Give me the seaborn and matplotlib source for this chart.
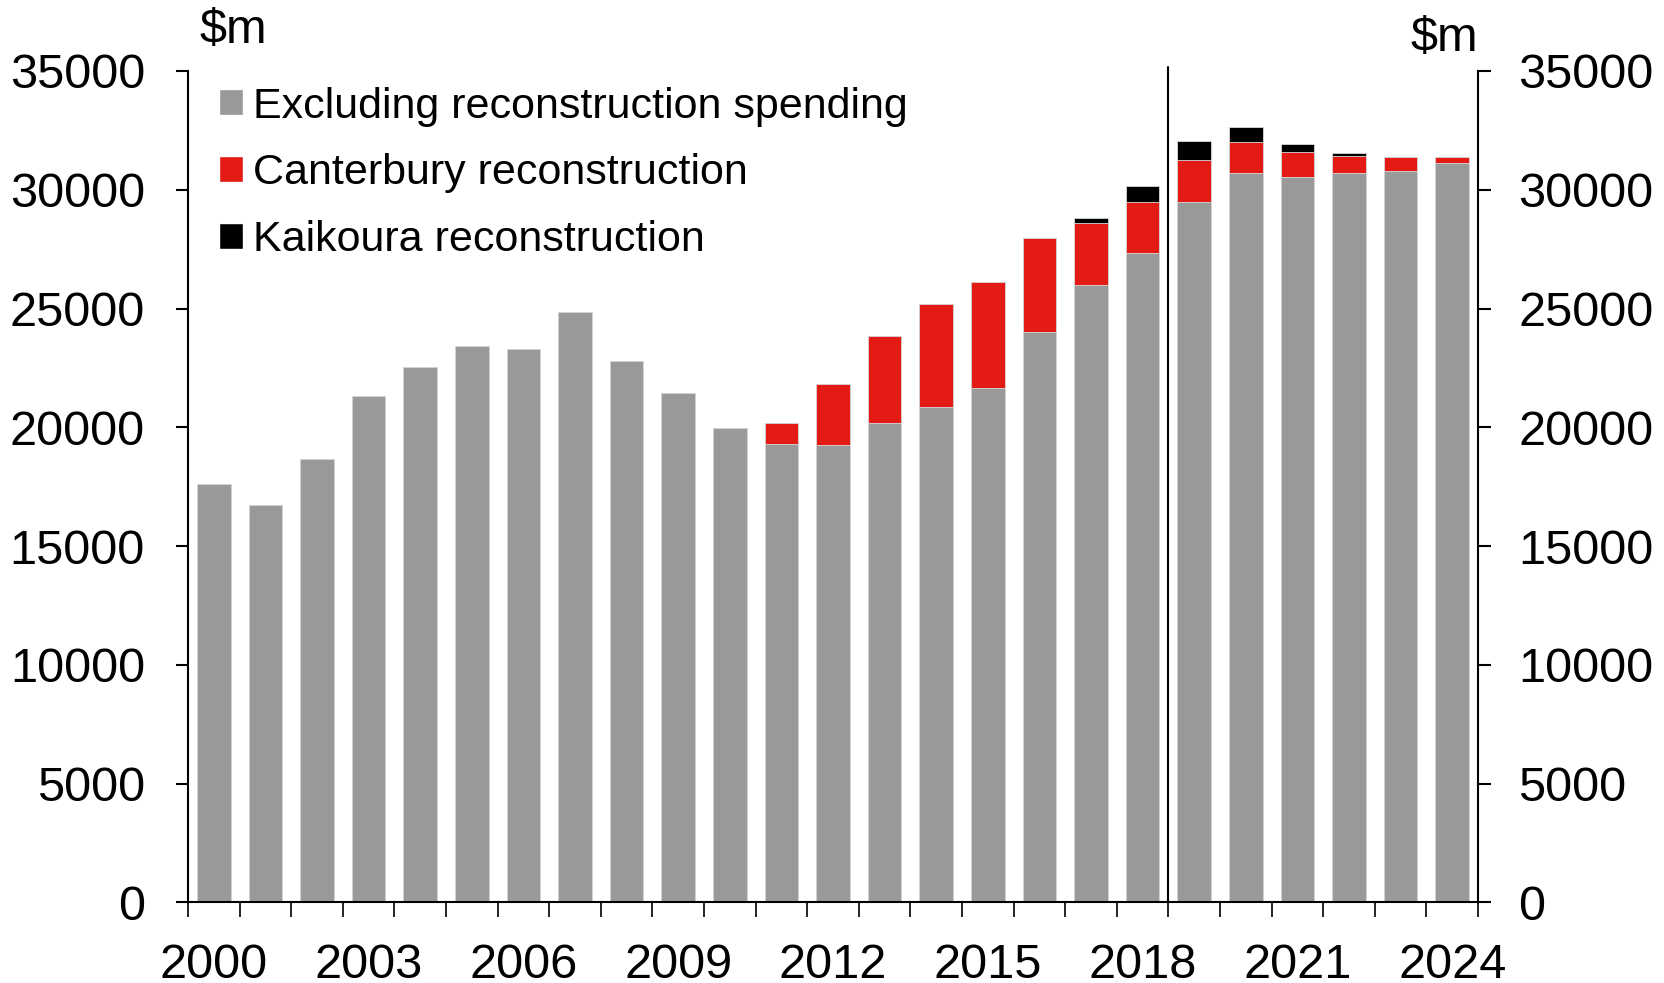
import matplotlib
matplotlib.use("Agg")
import matplotlib.pyplot as plt
import seaborn as sns
import numpy as np
import pandas as pd
from matplotlib.patches import Patch
from matplotlib.ticker import FixedLocator

years = [str(y) for y in range(2000, 2025)]
excluding = [17610, 16730, 18660, 21320, 22550, 23430, 23280, 24850, 22780, 21430,
             19980, 19310, 19250, 20190, 20840, 21670, 24010, 25990, 27340, 29480,
             30720, 30550, 30720, 30790, 31140]
canterbury = [0, 0, 0, 0, 0, 0, 0, 0, 0, 0,
              0, 880, 2570, 3660, 4360, 4460, 3940, 2610, 2130, 1780,
              1300, 1040, 700, 590, 230]
kaikoura = [0, 0, 0, 0, 0, 0, 0, 0, 0, 0,
            0, 0, 0, 0, 0, 0, 0, 220, 700, 790,
            630, 350, 110, 0, 0]
series_labels = ["Excluding reconstruction spending", "Canterbury reconstruction", "Kaikoura reconstruction"]
tick_years = ["2000", "2003", "2006", "2009", "2012", "2015", "2018", "2021", "2024"]
y_ticks = [0, 5000, 10000, 15000, 20000, 25000, 30000, 35000]

GREY = "#999999"
RED = "#e31b14"
BLACK = "#000000"

sns.set_theme(style="white")
plt.rcParams["font.family"] = ["Liberation Sans", "DejaVu Sans"]
plt.rcParams["text.color"] = "black"

df = pd.DataFrame({"year": years, "excl": excluding, "cant": canterbury, "kaik": kaikoura})
df["lvl2"] = df["excl"] + df["cant"]
df["lvl3"] = df["lvl2"] + df["kaik"]

fig = plt.figure(figsize=(16.65, 9.83), dpi=100)
ax = fig.add_axes([0.1129, 0.0819, 0.7748, 0.8459])

W = 0.65
kw = dict(order=years, width=W, linewidth=0.6, edgecolor="#d9d9d9", ax=ax, errorbar=None, saturation=1)
sns.barplot(data=df, x="year", y="lvl3", color=BLACK, **kw)
sns.barplot(data=df, x="year", y="lvl2", color=RED, **kw)
sns.barplot(data=df, x="year", y="excl", color=GREY, **kw)

ax.set_xlim(-0.5, len(years) - 0.5)
ax.set_ylim(0, 35000)
ax.set_xlabel("")
ax.set_ylabel("")

FS = 35
pos = [years.index(t) for t in tick_years]
ax.set_xticks(pos)
ax.set_xticklabels(tick_years, fontsize=FS)
ax.xaxis.set_minor_locator(FixedLocator(np.arange(-0.5, len(years), 1.0)))
ax.tick_params(axis="x", which="major", length=0, pad=29, colors="black")
ax.tick_params(axis="x", which="minor", bottom=True, length=11, width=1.2, color="black", direction="out")

ax.set_yticks(y_ticks)
ax.set_yticklabels([str(v) for v in y_ticks], fontsize=FS)
ax.tick_params(axis="y", which="major", left=True, length=9, width=1.5, pad=22, direction="out", colors="black")

for s in ["left", "bottom"]:
    ax.spines[s].set_visible(True)
    ax.spines[s].set_color("black")
    ax.spines[s].set_linewidth(1.5)
ax.spines["top"].set_visible(False)
ax.spines["right"].set_visible(False)

ax2 = ax.twinx()
ax2.set_ylim(0, 35000)
ax2.set_yticks(y_ticks)
ax2.set_yticklabels([str(v) for v in y_ticks], fontsize=FS)
ax2.tick_params(axis="y", which="major", right=True, length=9, width=1.5, pad=20, direction="out", colors="black")
ax2.spines["right"].set_visible(True)
ax2.spines["right"].set_color("black")
ax2.spines["right"].set_linewidth(1.5)
for s in ["top", "left", "bottom"]:
    ax2.spines[s].set_visible(False)
ax2.grid(False)
ax.grid(False)

ax.axvline(18.5, ymin=0, ymax=1.005, color="black", linewidth=1.5, clip_on=False)

fig.text(0.120, 0.992, "$m", fontsize=FS, ha="left", va="top")
fig.text(0.888, 0.984, "$m", fontsize=FS, ha="right", va="top")

handles = [Patch(facecolor=GREY), Patch(facecolor=RED), Patch(facecolor=BLACK)]
ax.legend(handles, series_labels, loc="upper left", bbox_to_anchor=(0.011, 1.002),
          frameon=False, fontsize=31, handlelength=0.55, handleheight=0.55,
          handletextpad=0.22, labelspacing=0.62, borderaxespad=0)

fig.savefig("out.png", dpi=100)
